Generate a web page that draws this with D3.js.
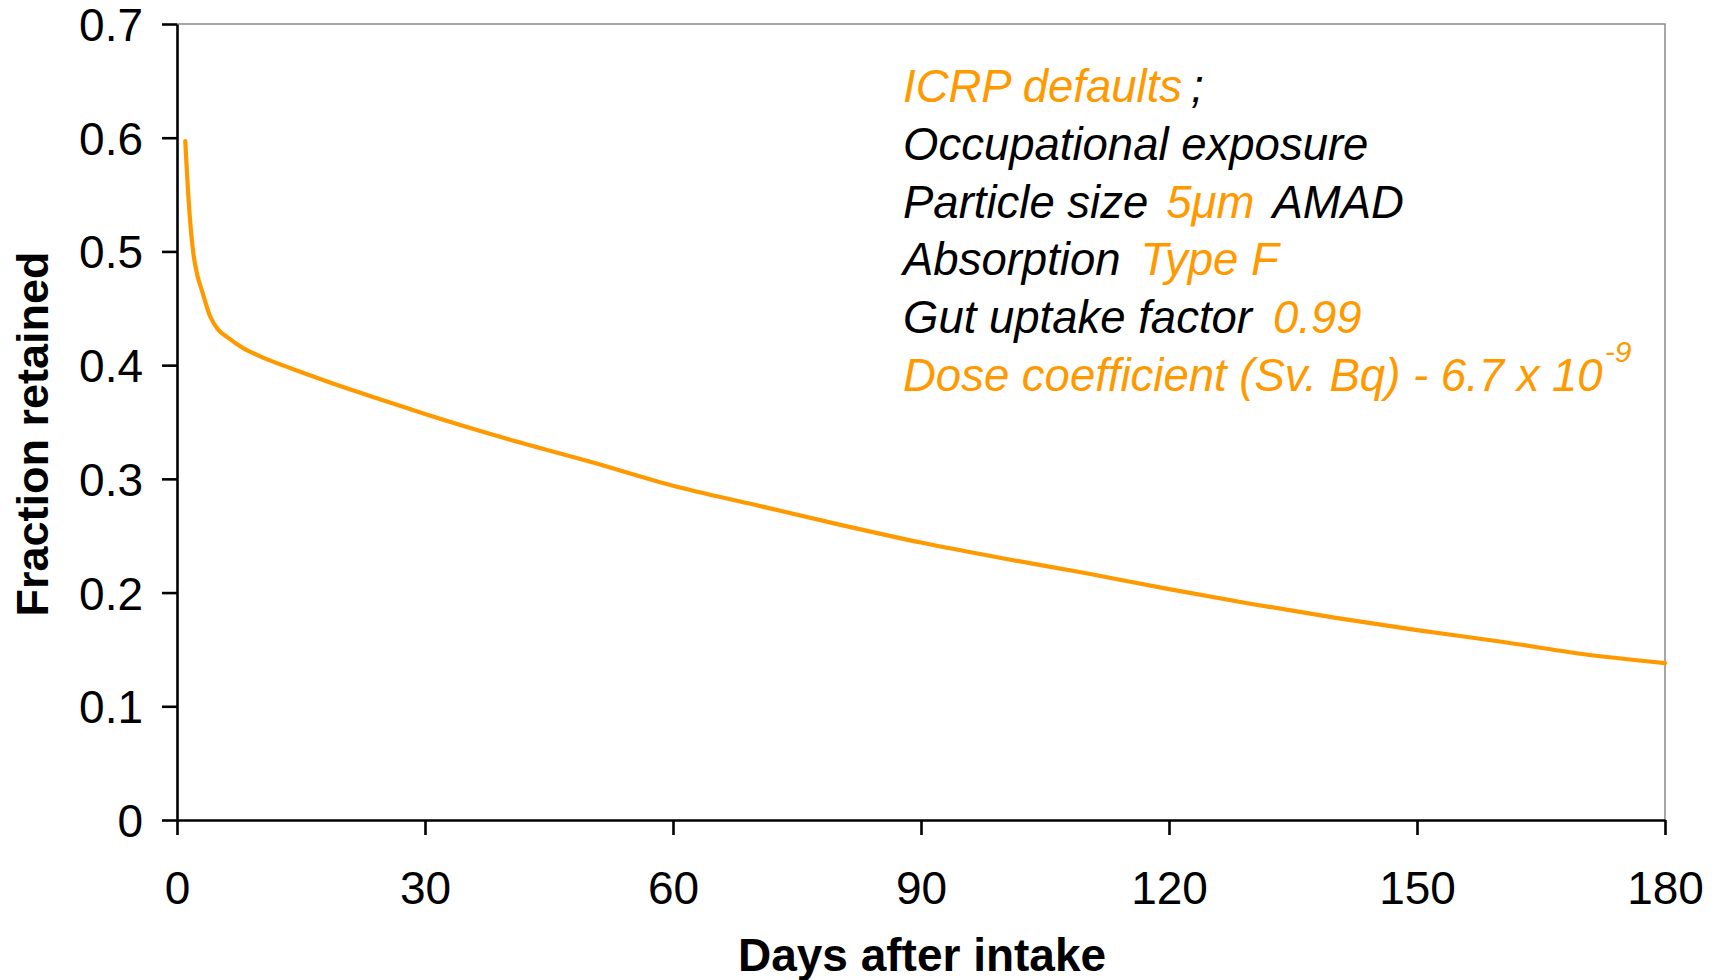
<!DOCTYPE html>
<html>
<head>
<meta charset="utf-8">
<script src="https://cdn.jsdelivr.net/npm/d3@7"></script>
<style>
  html, body { margin: 0; padding: 0; background: #fff; }
  svg { display: block; }
  text { font-family: "Liberation Sans", Arial, sans-serif; }
</style>
</head>
<body>
<svg id="chart" width="1721" height="980"></svg>
<script>
// Retention of intake over time (days after intake vs fraction retained)
const days = [1, 1.5, 2, 2.5, 3, 4, 5, 6, 8, 10, 12, 15, 20, 25, 30, 40, 50, 60, 70, 80,
              90, 100, 110, 120, 130, 140, 150, 160, 170, 180];
const fractionRetained = [0.597, 0.535, 0.497, 0.478, 0.466, 0.443, 0.431, 0.425, 0.415, 0.408,
                          0.402, 0.394, 0.381, 0.369, 0.357, 0.335, 0.315, 0.294, 0.277, 0.260,
                          0.244, 0.230, 0.217, 0.203, 0.190, 0.178, 0.167, 0.157, 0.146, 0.138];
const xTicks = [0, 30, 60, 90, 120, 150, 180];
const yTicks = [0, 0.1, 0.2, 0.3, 0.4, 0.5, 0.6, 0.7];

const ORANGE = "#FF9900";
const BLACK = "#000000";

// Annotation lines: each part is [text, colour, gap before it, superscript?]
const noteLines = [
  [["ICRP defaults", ORANGE, 0], [";", BLACK, 9]],
  [["Occupational exposure", BLACK, 0]],
  [["Particle size", BLACK, 0], ["5μm", ORANGE, 18], ["AMAD", BLACK, 18]],
  [["Absorption", BLACK, 0], ["Type F", ORANGE, 20]],
  [["Gut uptake factor", BLACK, 0], ["0.99", ORANGE, 21]],
  [["Dose coefficient (Sv. Bq) - 6.7 x 10", ORANGE, 0], ["-9", ORANGE, 2, true]]
];

const svg = d3.select("#chart");
const plot = { left: 177, right: 1665, top: 24, bottom: 820 };

const x = d3.scaleLinear().domain([0, 180]).range([plot.left, plot.right]);
const y = d3.scaleLinear().domain([0, 0.7]).range([plot.bottom, plot.top]);

// Top and right frame lines
svg.append("path")
  .attr("d", `M${x(0)},${y(0.7)}H${x(180)}V${y(0)}`)
  .attr("fill", "none")
  .attr("stroke", "#8a8a8a")
  .attr("stroke-width", 1.5);

// Y axis
const yAxis = svg.append("g")
  .attr("transform", `translate(${plot.left},0)`)
  .call(d3.axisLeft(y).tickValues(yTicks).tickSizeInner(15).tickSizeOuter(0)
        .tickFormat(d => d === 0 ? "0" : d3.format(".1f")(d)));
yAxis.select(".domain").attr("stroke", BLACK).attr("stroke-width", 2.6);
yAxis.selectAll(".tick line").attr("stroke", BLACK).attr("stroke-width", 2.6);
yAxis.selectAll(".tick text")
  .attr("x", -34).attr("dy", "0.36em")
  .attr("font-size", 46).attr("fill", BLACK)
  .style("font-family", '"Liberation Sans", Arial, sans-serif');

// X axis
const xAxis = svg.append("g")
  .attr("transform", `translate(0,${plot.bottom})`)
  .call(d3.axisBottom(x).tickValues(xTicks).tickSizeInner(15).tickSizeOuter(0));
xAxis.select(".domain").attr("stroke", BLACK).attr("stroke-width", 2.6);
xAxis.selectAll(".tick line").attr("stroke", BLACK).attr("stroke-width", 2.6);
xAxis.selectAll(".tick text")
  .attr("y", 84).attr("dy", 0)
  .attr("font-size", 46).attr("fill", BLACK)
  .style("font-family", '"Liberation Sans", Arial, sans-serif');

// Axis titles
svg.append("text")
  .attr("x", (plot.left + plot.right) / 2 + 1)
  .attr("y", 971)
  .attr("text-anchor", "middle")
  .attr("font-size", 46)
  .attr("font-weight", "bold")
  .text("Days after intake");

svg.append("text")
  .attr("transform", `translate(48,${(plot.top + plot.bottom) / 2 + 12}) rotate(-90)`)
  .attr("text-anchor", "middle")
  .attr("font-size", 45)
  .attr("font-weight", "bold")
  .text("Fraction retained");

// Retention curve
const line = d3.line()
  .x((d, i) => x(days[i]))
  .y(d => y(d))
  .curve(d3.curveMonotoneX);

svg.append("path")
  .datum(fractionRetained)
  .attr("d", line)
  .attr("fill", "none")
  .attr("stroke", ORANGE)
  .attr("stroke-width", 4.2)
  .attr("stroke-linejoin", "round")
  .attr("stroke-linecap", "round");

// Annotation block
const noteX = 903, noteY0 = 102, noteStep = 57.8;
noteLines.forEach((parts, i) => {
  const t = svg.append("text")
    .attr("x", noteX)
    .attr("y", noteY0 + i * noteStep)
    .attr("font-size", 45.5)
    .attr("font-style", "italic");
  parts.forEach(([str, col, gap, sup]) => {
    const ts = t.append("tspan").attr("fill", col).attr("dx", gap).text(str);
    if (sup) ts.attr("font-size", 30).attr("dy", -29);
  });
});
</script>
</body>
</html>
